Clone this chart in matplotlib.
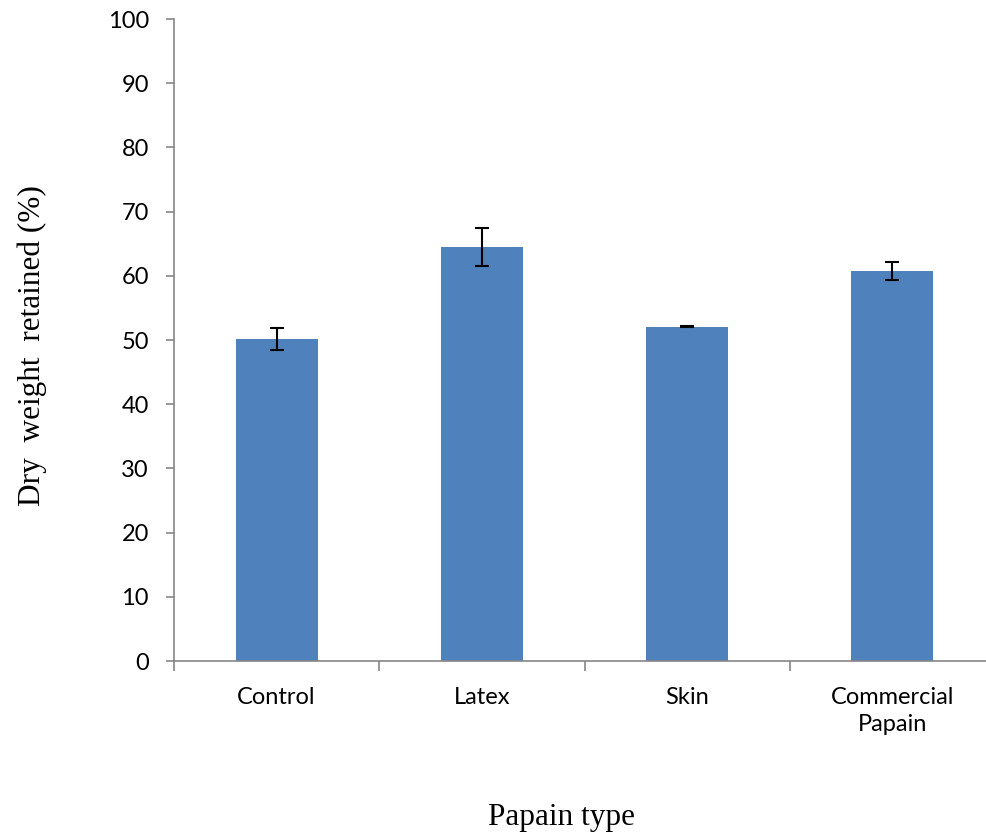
import numpy as np
import matplotlib
matplotlib.use('Agg')
import matplotlib.pyplot as plt

categories = ['Control', 'Latex', 'Skin', 'Commercial\nPapain']
values = [50.2, 64.5, 52.1, 60.7]
errors = [1.7, 3.0, 0.1, 1.4]

fig = plt.figure(figsize=(9.86, 8.34), dpi=100)
ax = fig.add_axes([174 / 986, 173 / 834, 821 / 986, 642 / 834])

x = np.arange(len(categories))
ax.bar(x, values, width=0.4, color='#4F81BD', zorder=2)
ax.errorbar(x, values, yerr=errors, fmt='none', ecolor='black',
            elinewidth=1.5, capsize=5, capthick=1.5, zorder=3)

ax.set_xlim(-0.5, len(categories) - 0.5)
ax.set_ylim(0, 100)
ax.set_yticks(np.arange(0, 101, 10))
ax.set_xticks(np.arange(-0.5, len(categories), 1))
ax.set_xticklabels([])
ax.set_xticks(x, minor=True)
ax.set_xticklabels(categories, minor=True, fontsize=17, family='Lato',
                   linespacing=1.35)
ax.tick_params(axis='x', which='minor', length=0, pad=19)
ax.tick_params(axis='x', which='major', length=7, color='#868686', width=1.2)
ax.tick_params(axis='y', length=6, color='#868686', width=1.2, labelsize=17, pad=12)
for lab in ax.get_yticklabels():
    lab.set_family('Lato')

for s in ['top', 'right']:
    ax.spines[s].set_visible(False)
for s in ['left', 'bottom']:
    ax.spines[s].set_color('#868686')
    ax.spines[s].set_linewidth(1.2)

fig.text(32 / 986, 1 - 346 / 834, 'Dry  weight  retained (%)', rotation=90,
         ha='center', va='center', fontsize=22.5, family='Liberation Serif')
fig.text(562 / 986, 1 - 818 / 834, 'Papain type', ha='center', va='center',
         fontsize=22.5, family='Liberation Serif')

fig.savefig('out.png', dpi=100)
